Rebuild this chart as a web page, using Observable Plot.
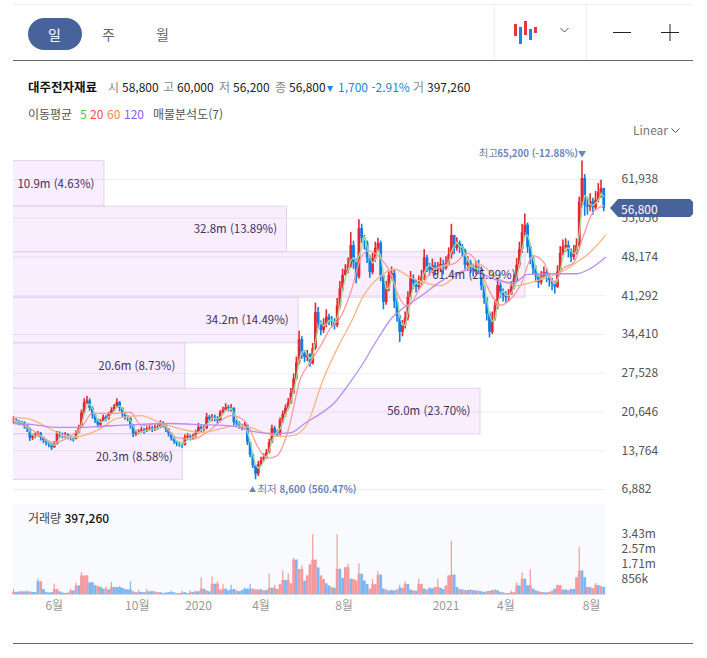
<!DOCTYPE html>
<html lang="ko"><head><meta charset="utf-8">
<script src="https://cdn.jsdelivr.net/npm/d3@7"></script>
<script src="https://cdn.jsdelivr.net/npm/@observablehq/plot@0.6"></script>
<style>
html,body{margin:0;padding:0;background:#fff;width:707px;height:658px;overflow:hidden}
body{position:relative;font-family:"Noto Sans CJK KR","Noto Sans",sans-serif;font-size:12px;color:#222}
.a{position:absolute;white-space:nowrap}
.r1,.r2{position:absolute;white-space:nowrap;line-height:16px}
.r1{top:79px}.r2{top:106px}
.g{color:#888}
#price,#volume{position:absolute;left:0}
#price{top:140px}#volume{top:500px}
</style></head><body>
<div class="a" style="left:13px;top:4px;width:680px;height:1px;background:#eee"></div>
<div class="a" style="left:13px;top:60px;width:680px;height:1px;background:#62666f"></div>
<div class="a" style="left:494px;top:5px;width:1px;height:55px;background:#eee"></div>
<div class="a" style="left:586px;top:5px;width:1px;height:55px;background:#eee"></div>
<div class="a" style="left:28px;top:18px;width:54px;height:32px;border-radius:16px;background:#48629b"></div>
<div class="a" style="left:48px;top:24px;color:#fff;font-size:14px">일</div>
<div class="a" style="left:102px;top:24px;color:#666;font-size:14px">주</div>
<div class="a" style="left:156px;top:24px;color:#666;font-size:14px">월</div>
<svg class="a" style="left:510px;top:20px" width="175" height="30" viewBox="0 0 175 30">
<rect x="4" y="4" width="3" height="12" fill="#e8343c"/><rect x="9" y="7" width="3" height="17" fill="#1b84e6"/>
<rect x="14" y="1" width="3" height="14" fill="#e8343c"/><rect x="19" y="9" width="3" height="11" fill="#1b84e6"/>
<rect x="24" y="7" width="3" height="6" fill="#e8343c"/>
<path d="M50.5 8l4 4 4-4" fill="none" stroke="#555"/>
<path d="M103 12.5h18M151 12.5h18M160 4v17" fill="none" stroke="#222"/></svg>
<b class="r1" style="left:28px;color:#111;font-size:12.5px">대주전자재료</b>
<span class="r1 g" style="left:108px">시</span><span class="r1" style="left:122px">58,800</span>
<span class="r1 g" style="left:163px">고</span><span class="r1" style="left:177px">60,000</span>
<span class="r1 g" style="left:219px">저</span><span class="r1" style="left:233px">56,200</span>
<span class="r1 g" style="left:275px">종</span><span class="r1" style="left:289px">56,800</span>
<span class="r1" style="left:327px;color:#1b84e6">▾</span><span class="r1" style="left:338px;color:#1b84e6">1,700 -2.91%</span>
<span class="r1 g" style="left:413px">거</span><span class="r1" style="left:427px">397,260</span>
<span class="r2" style="left:28px;color:#555">이동평균</span><span class="r2" style="left:80px;color:#2fcf3f">5</span>
<span class="r2" style="left:90px;color:#ff4a4a">20</span><span class="r2" style="left:107px;color:#ff8a3c">60</span>
<span class="r2" style="left:124px;color:#9157ff">120</span><span class="r2" style="left:153px;color:#555">매물분석도(7)</span>
<div class="a" style="left:633px;top:121px;color:#777">Linear</div>
<svg class="a" style="left:670px;top:127px" width="12" height="8"><path d="M1.5 1.5l4 4 4-4" fill="none" stroke="#555"/></svg>
<div id="price"></div>
<div id="volume"></div>
<div class="a" style="left:28px;top:509px;color:#444">거래량 <span style="color:#111;font-weight:500">397,260</span></div>
<div class="a" style="left:610px;top:199px;width:83px;height:18px;background:#48629b;clip-path:polygon(0 50%,8px 0,80px 0,83px 3px,83px 15px,80px 18px,8px 18px)"></div>
<div class="a" style="left:621px;top:200px;color:#fff;line-height:17px">56,800</div>
<div class="a" style="left:13px;top:643px;width:680px;height:1px;background:#62666f"></div>
<script>
// Prices in thousand won, one candle per session sample
const closes = [
19.2,18.9,18.8,18.7,18.2,17.6,16.0,16.3,16.5,16.8,
16.1,15.6,15.2,14.9,14.3,14.9,16.7,16.6,16.4,16.6,
16.2,16.0,15.8,16.9,17.9,20.5,22.3,22.6,21.3,20.0,
19.2,18.3,18.9,19.7,19.4,20.2,20.9,21.5,22.3,21.3,
20.3,19.7,19.5,18.2,16.7,16.9,17.1,17.4,17.2,17.6,
17.7,17.5,17.8,17.9,18.6,18.3,17.6,16.8,16.0,15.4,
15.0,14.9,14.7,16.1,16.3,16.0,16.2,16.9,17.9,17.6,
17.7,19.7,19.4,19.7,19.5,19.1,20.5,20.9,21.4,21.2,
21.3,18.8,18.6,18.2,17.9,18.3,15.2,13.0,11.1,9.6,
11.3,12.0,12.6,13.4,15.2,17.7,16.9,16.8,19.1,20.2,
21.3,22.3,24.0,26.5,29.4,33.5,31.0,30.3,30.8,29.2,
31.9,38.3,36.4,35.1,36.2,37.5,36.9,36.6,36.0,39.5,
42.5,44.9,45.8,46.7,50.2,47.2,44.6,53.2,51.5,50.7,
48.0,45.4,47.8,49.7,50.6,44.8,40.1,42.8,44.9,45.2,
40.2,37.6,34.8,36.0,37.3,41.0,44.4,43.5,42.8,43.6,
44.5,48.0,46.5,45.8,46.6,45.9,46.3,46.8,46.1,47.0,
48.5,52.0,49.7,50.6,49.9,49.3,46.7,47.1,46.2,45.8,
46.4,46.1,43.0,40.8,38.0,34.8,37.3,39.5,43.1,42.0,
41.3,41.0,41.4,42.8,43.9,46.7,49.5,52.5,53.8,49.9,
48.0,46.1,44.8,43.6,44.6,45.4,44.8,44.0,43.4,42.8,
45.5,48.8,49.9,50.2,49.2,48.1,49.0,50.2,57.9,62.1,
57.3,57.0,58.0,56.9,58.3,59.6,60.3,56.8];
const highs = [
19.8,19.4,19.2,19.0,18.9,18.4,17.8,16.7,16.9,17.2,
17.0,16.2,15.8,15.3,15.0,15.4,17.2,17.1,16.9,17.0,
16.8,16.4,16.2,17.3,18.3,21.0,23.0,23.4,23.0,21.6,
20.2,19.4,19.3,20.1,20.0,20.6,21.4,22.0,23.0,22.5,
21.4,20.6,20.0,19.6,18.4,17.4,17.5,17.9,17.7,18.0,
18.2,18.1,18.3,18.4,19.1,18.9,18.5,17.7,16.9,16.1,
15.5,15.3,15.1,16.6,16.8,16.6,16.7,17.4,18.6,18.2,
18.2,20.4,20.0,20.2,20.1,19.8,20.9,21.5,22.1,21.8,
22.0,21.4,19.2,18.9,18.4,18.8,18.4,15.4,13.2,11.2,
11.9,12.6,13.2,14.0,15.8,18.3,18.1,17.4,19.6,20.8,
21.9,23.0,24.8,27.4,30.4,35.0,34.0,31.6,31.6,31.0,
32.8,40.0,39.2,36.8,37.2,38.8,38.0,37.6,37.2,40.8,
43.8,46.0,46.8,48.0,52.5,51.0,47.8,54.8,54.0,52.0,
51.0,48.4,48.8,50.8,51.5,51.0,45.0,43.8,45.8,46.4,
45.8,40.8,37.8,36.9,38.4,42.0,45.6,45.0,44.0,44.8,
45.8,49.5,48.5,47.0,47.8,47.2,47.2,48.0,47.6,48.2,
49.8,54.0,52.0,51.6,51.0,50.4,49.6,48.2,47.6,46.9,
47.4,47.6,46.4,43.2,41.0,38.4,38.4,40.6,44.4,43.6,
42.5,42.0,42.4,43.8,45.0,47.9,50.8,54.0,55.8,54.2,
50.6,48.4,46.6,45.2,45.6,46.4,46.0,45.2,44.4,43.8,
46.6,50.0,51.2,51.4,51.0,49.6,50.2,51.4,58.8,65.2,
62.8,58.8,59.4,58.6,59.8,61.2,61.8,60.4];
const lows = [
18.6,18.4,18.2,18.2,17.6,17.0,15.4,15.6,15.9,16.2,
15.5,15.0,14.6,14.3,13.8,14.2,14.8,16.0,15.9,16.0,
15.7,15.5,15.3,15.7,16.8,17.7,20.1,22.0,20.8,19.4,
18.6,17.8,17.8,18.8,18.9,19.2,20.3,20.6,21.4,20.7,
19.7,19.2,18.9,17.6,16.1,16.3,16.6,16.9,16.7,17.0,
17.2,17.0,17.2,17.4,17.7,17.8,17.0,16.2,15.5,14.9,
14.5,14.4,14.2,14.6,15.7,15.5,15.6,16.0,16.7,17.0,
17.1,17.5,18.7,18.9,18.9,18.5,18.9,20.3,20.7,20.7,
20.6,18.2,18.0,17.6,17.3,17.6,14.7,12.5,10.6,8.6,
9.2,11.0,11.8,12.3,13.2,15.0,16.2,16.2,16.4,18.6,
19.7,21.0,22.0,23.8,26.2,29.0,30.0,29.4,29.6,28.6,
29.0,31.6,35.4,34.2,34.6,35.6,36.0,35.6,35.2,35.6,
39.0,42.0,44.8,45.2,46.2,46.0,43.4,44.2,50.6,49.4,
47.0,44.4,45.0,47.2,49.2,43.8,38.8,39.6,42.0,44.0,
39.0,36.6,33.0,34.0,35.4,36.8,40.4,42.4,41.8,42.2,
43.0,44.0,45.4,44.8,45.2,44.8,45.0,45.4,45.0,45.8,
46.6,47.8,48.6,49.2,48.8,48.2,45.6,45.8,45.2,44.6,
45.0,45.0,42.2,39.8,36.8,33.8,34.4,36.8,38.8,40.8,
40.2,40.0,40.2,41.4,42.4,43.6,46.2,48.8,51.8,48.8,
46.8,45.0,43.6,42.6,43.2,44.2,43.6,42.8,42.2,41.6,
42.6,45.0,48.4,49.0,48.0,47.2,47.6,48.6,49.8,56.8,
55.4,55.6,56.2,55.6,56.4,57.8,58.6,56.2];
// Volume in millions, same sessions; r = up bar, b = down bar
const volumes = [
.30,.12,.14,.18,.14,.22,.14,.12,.10,.86,
.72,.28,.12,.08,.10,.58,.28,.14,.08,.06,
.08,.28,.20,.66,.48,1.24,1.05,1.08,.66,.66,
.50,.45,.40,.30,.42,.25,.68,.40,.38,.45,
.35,.28,.25,.72,.15,.10,.25,.12,.10,.28,
.15,.18,.14,.10,.10,.06,.08,.10,.20,.10,
.05,.05,.20,.10,.05,.20,.12,.18,.15,.95,
.30,.20,.14,.99,.58,.72,.25,.58,.30,.20,
.53,.28,.20,.15,.22,.35,.30,.58,.30,.25,
.25,.28,.20,.22,1.15,.35,.53,.28,.55,1.33,
.80,1.18,.60,2.05,1.95,1.42,1.62,.75,1.05,1.68,
3.40,1.95,1.50,1.05,.85,.60,.48,.38,.35,3.40,
1.43,.90,1.52,1.72,.86,.85,.76,1.75,1.15,.76,
.57,.30,.86,.55,1.30,1.10,.30,.25,.20,.25,
.20,.25,.53,.35,.72,.57,.25,.20,.19,.86,
.57,.30,.25,.38,.32,.40,.86,.35,.28,.48,
1.05,3.02,1.10,.40,.28,.25,.22,.23,.28,.22,
.20,.18,.15,.12,.15,.18,.22,.28,.20,.12,
.08,.05,.05,.20,.10,.67,.48,1.24,.86,.50,
1.39,.30,.20,.15,.12,.10,.08,.12,.18,.30,
.53,.50,.25,.25,.22,.30,.28,.95,2.67,1.33,
.95,.40,.38,.32,.62,.50,.45,.40];
const volumeSides = "rbbrbbrbbb"+"rbbbbrrbbb"+"rrbrbrrrbb"+"brbbrbrbbb"+"bbbbrbrbbr"+"bbrrbbbbbb"+"rbrbbrbrbr"+"brbrbrrrbb"+"bbrbbbbbrr"+"rbrbrbrrrr"+"brrrbrrbrr"+"rrbrrbbrbr"+"bbrrbrrrbb"+"brrrrbbrbb"+"brbrrbbrbr"+"rbrbbrrbbr"+"rrbbrbrbrb"+"brbbrrbrbr"+"brbrrrbrbb"+"rbbrrbbrrb"+"rrbbrbbrrb"+"brbrrbrb";
// Moving averages: session index and price
const ma20Idx = [0,7,15,20,25,29,36,43,47,54,60,66,71,80,85,90,93.4,97,101,105.5,109,113,116.5,120,124,127.6,130.5,135,138.6,141.5,145,149.6,153,157,162,167,170.6,174,179,183,186.4,191,195,198.5,202,206,209.6,213,217];
const ma20Val = [19.1,17.4,15.2,16.1,17.9,20.4,20.4,20.6,18.2,18.6,16.1,15.8,17.0,20.0,19.1,14.3,12.4,12.9,17.4,26.6,29.4,32.5,35.5,37.3,41.9,47.9,49.3,47.9,45.4,41.3,39.4,42.8,45.2,46.5,47.0,48.8,47.0,43.1,39.6,40.8,43.1,48.4,47.2,43.6,46.1,47.2,52.0,56.1,57.3];
const ma60Idx = [0,5,12.5,16,21,26,32,38,47,53,61,69,75,81,87,92,98,103,108,114,119,124,128.7,134,140,146,152,157,163,170.6,178,185,192.6,200,207,212,217.6];
const ma60Val = [19.7,19.5,17.9,17.0,16.1,16.5,17.7,19.5,20.0,18.9,17.7,17.0,17.5,18.2,17.9,17.0,16.3,16.5,18.6,26.6,31.9,36.5,41.3,44.4,46.0,44.5,43.5,43.1,44.9,47.0,44.4,43.1,44.0,45.2,47.2,49.0,52.0];
const ma120Idx = [0,7,16,24,32,44,57,69,81,88,96,102,107,113,118,123,128,134,139,143,150,157,162.5,167,173.5,178,184,189,198.5,207,212,217.6];
const ma120Val = [18.6,18.4,17.9,17.9,18.1,18.4,18.6,18.4,18.1,17.2,16.8,17.0,18.6,20.4,22.3,25.4,28.9,33.7,37.3,39.0,41.3,43.8,45.2,45.8,44.9,44.0,43.6,45.1,45.2,45.2,46.1,48.1];
// Volume profile, bottom bin first
const profileEdges = [8.6,16.686,24.771,32.857,40.943,49.029,57.114,65.2];
const profileVolumes = [20.3,56.0,20.6,34.2,61.4,32.8,10.9];
const profilePercents = ["8.58%","23.70%","8.73%","14.49%","25.99%","13.89%","4.63%"];
const priceTicks = [6.882,13.764,20.646,27.528,34.410,41.292,48.174,55.056,61.938];
const volumeTicks = [0.856,1.71,2.57,3.43];
const volumeTickLabels = ["856k","1.71m","2.57m","3.43m"];
const dateTicks = [15,45.5,68,91,121.5,159,181,212.5];
const dateTickLabels = ["6월","10월","2020","4월","8월","2021","4월","8월"];
const sessionsPerMillion = 3.066; // profile bars share the session axis

const UP="#e8262f", DOWN="#0f7de8", FONT='"Noto Sans CJK KR","Noto Sans",sans-serif';
const xDomain=[0,217.65];
const rows = closes.map((c,i)=>({i,c,o:i?closes[i-1]:c,h:highs[i],l:lows[i]}));
const volRows = volumes.map((v,i)=>({i,v,s:volumeSides[i],base:Math.min(v,Math.max(volumes[i-1]??0,volumes[i+1]??0))}));
const volColor = d=>d.s==="r"?"#f49a9c":"#7db8f5";
const profile = profileVolumes.map((v,i)=>({v,p:profilePercents[i],y1:profileEdges[i],y2:profileEdges[i+1]}));
const line=(idx,val)=>idx.map((x,i)=>({x,y:val[i]}));
const MA={curve:"monotone-x",strokeWidth:1.3};

document.getElementById("price").append(Plot.plot({
  width:707,height:360,marginLeft:13,marginRight:102,marginTop:0,marginBottom:0,
  style:{background:"transparent",fontFamily:FONT,fontSize:"12px"},
  x:{domain:xDomain,axis:null},
  y:{domain:[4.93,68.86]},
  marks:[
    Plot.ruleY(priceTicks,{stroke:"#eeeef2",strokeWidth:1}),
    Plot.rect(profile,{x1:-3,x2:d=>d.v*sessionsPerMillion,y1:"y1",y2:"y2",fill:"#b048f0",fillOpacity:.09,stroke:"#e3d2ee",strokeWidth:1,clip:true}),
    Plot.axisY({anchor:"right",ticks:priceTicks,tickSize:0,tickPadding:16,label:null,stroke:"none",color:"#555",tickFormat:d=>d3.format(",")(Math.round(d*1000))}),
    Plot.ruleX(rows,{x:"i",y1:"l",y2:"h",stroke:d=>d.c>=d.o?UP:DOWN,strokeWidth:1.6}),
    Plot.ruleX(rows,{x:"i",y1:"o",y2:"c",stroke:d=>d.c>=d.o?UP:DOWN,strokeWidth:2.8}),
    Plot.lineY(rows,Plot.windowY({k:3,anchor:"end"},{x:"i",y:"c",stroke:"#93e39a",strokeWidth:1.3})),
    Plot.line(line(ma20Idx,ma20Val),{x:"x",y:"y",stroke:"#f79c9c",...MA}),
    Plot.line(line(ma60Idx,ma60Val),{x:"x",y:"y",stroke:"#fbb47e",...MA}),
    Plot.line(line(ma120Idx,ma120Val),{x:"x",y:"y",stroke:"#b98cf2",...MA}),
    Plot.text(profile,{x:d=>d.v*sessionsPerMillion,y:d=>(d.y1+d.y2)/2,text:d=>`${d.v.toFixed(1)}m (${d.p})`,textAnchor:"end",dx:-10,fontSize:11.5,fill:"#41305e"}),
    Plot.text([{x:209,y:65.2}],{x:"x",y:"y",text:()=>"▼",dy:-7,fontSize:8,fill:"#6e83b6"}),
    Plot.text([{x:209,y:65.2}],{x:"x",y:"y",text:()=>"65,200 (-12.88%)",textAnchor:"end",dx:-4,dy:-7,fontSize:9.7,fontWeight:700,fill:"#6e83b6"}),
    Plot.text([{x:209,y:65.2}],{x:"x",y:"y",text:()=>"최고",textAnchor:"end",dx:-84,dy:-7,fontSize:10.5,fill:"#6e83b6"}),
    Plot.text([{x:88.2,y:8.6}],{x:"x",y:"y",text:()=>"▲",dy:10,dx:-1,fontSize:7,fill:"#6e83b6"}),
    Plot.text([{x:88.2,y:8.6}],{x:"x",y:"y",text:()=>"최저",textAnchor:"start",dx:4,dy:10,fontSize:10.5,fill:"#6e83b6"}),
    Plot.text([{x:88.2,y:8.6}],{x:"x",y:"y",text:()=>"8,600 (560.47%)",textAnchor:"start",dx:26,dy:10,fontSize:9.7,fontWeight:700,fill:"#6e83b6"})
  ]
}));

document.getElementById("volume").append(Plot.plot({
  width:707,height:120,marginLeft:13,marginRight:102,marginTop:0,marginBottom:26,
  style:{background:"transparent",fontFamily:FONT,fontSize:"12px"},
  x:{domain:xDomain},
  y:{domain:[0,5.34]},
  marks:[
    Plot.rect([{}],{x1:xDomain[0],x2:xDomain[1],y1:0,y2:5.12,fill:"#f9fafe"}),
    Plot.ruleX(volRows,{x:"i",y1:0,y2:"base",stroke:volColor,strokeWidth:2.8}),
    Plot.ruleX(volRows,{x:"i",y1:0,y2:"v",stroke:volColor,strokeWidth:1.2}),
    Plot.ruleY([0],{stroke:"#cfd6e6",strokeWidth:1}),
    Plot.axisY({anchor:"right",ticks:volumeTicks,tickSize:0,tickPadding:16,label:null,stroke:"none",color:"#555",tickFormat:(d,i)=>volumeTickLabels[i]}),
    Plot.axisX({ticks:dateTicks,tickSize:0,tickPadding:7,label:null,stroke:"none",color:"#999",tickFormat:(d,i)=>dateTickLabels[i]})
  ]
}));
</script>
</body></html>
